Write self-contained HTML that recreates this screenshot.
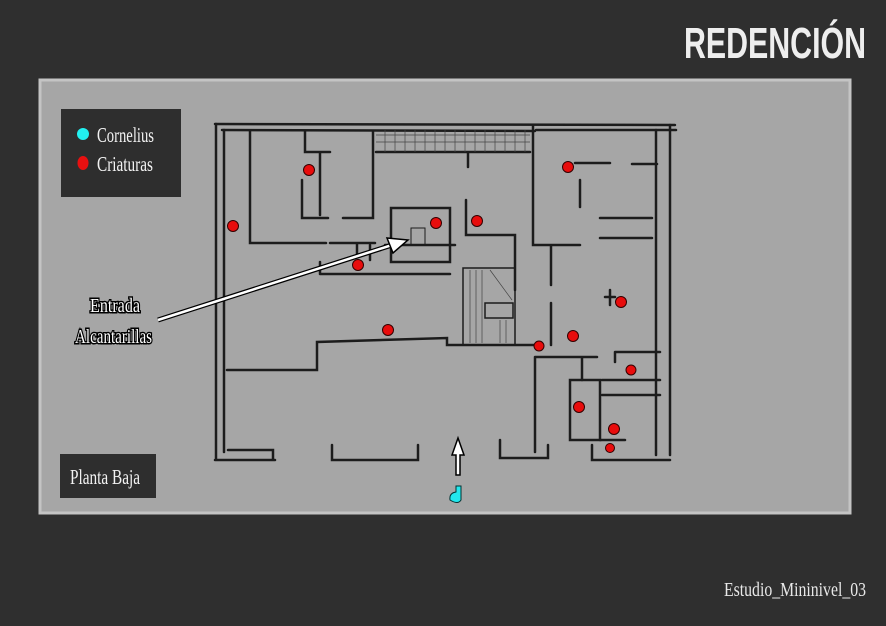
<!DOCTYPE html>
<html><head><meta charset="utf-8"><style>
html,body{margin:0;padding:0;width:886px;height:626px;overflow:hidden;background:#2f2f2f;}
svg{display:block}
</style></head><body>
<svg width="886" height="626" viewBox="0 0 886 626" xmlns="http://www.w3.org/2000/svg">
<rect width="886" height="626" fill="#2f2f2f"/>
<text x="866" y="58" text-anchor="end" font-family="Liberation Sans, sans-serif" font-weight="bold" font-size="44" fill="#eeeeee" textLength="182" lengthAdjust="spacingAndGlyphs">REDENCIÓN</text>
<rect x="40" y="80" width="810" height="433" fill="#a6a6a6" stroke="#c4c4c4" stroke-width="3"/>
<rect x="61" y="109" width="120" height="88" fill="#2e2e2e"/>
<ellipse cx="83" cy="134" rx="6" ry="6" fill="#22f0f0"/>
<ellipse cx="83" cy="163" rx="5.5" ry="7" fill="#e81010"/>
<text x="97" y="142" font-family="Liberation Serif, serif" font-size="21" fill="#f2f2f2" textLength="57" lengthAdjust="spacingAndGlyphs">Cornelius</text>
<text x="97" y="171" font-family="Liberation Serif, serif" font-size="21" fill="#f2f2f2" textLength="56" lengthAdjust="spacingAndGlyphs">Criaturas</text>
<rect x="60" y="454" width="96" height="44" fill="#2e2e2e"/>
<text x="70" y="484" font-family="Liberation Serif, serif" font-size="21" fill="#f2f2f2" textLength="70" lengthAdjust="spacingAndGlyphs">Planta Baja</text>
<g font-family="Liberation Serif, serif" font-size="20" fill="#fff" stroke="#000" stroke-width="3" paint-order="stroke">
<text x="90" y="312" textLength="50" lengthAdjust="spacingAndGlyphs">Entrada</text>
<text x="75" y="343" textLength="77" lengthAdjust="spacingAndGlyphs">Alcantarillas</text>
</g>
<text x="724" y="596" font-family="Liberation Serif, serif" font-size="20" fill="#e8e8e8" textLength="142" lengthAdjust="spacingAndGlyphs">Estudio_Mininivel_03</text>
<g fill="none" stroke="#1c1c1c" stroke-width="2.5" stroke-linecap="round">
<path d="M215 124 L675 125 M222 130 L535 131 M536 130 L676 130"/>
<path d="M216 124 V460 M224 130 V452 M215 460 H275 M228 450 H273 V460"/>
<path d="M250 131 V243 H326 M330 243 H375 M357 243 V255"/>
<path d="M305 131 V152 H330 M320 152 V215 M302 180 V218 H328 M373 131 V218 H343"/>
<path d="M376 152 H530 M459 152 H490 M468 152 V167"/>
<path d="M385 245 H455 M370 245 V260"/>
<rect x="391" y="208" width="59" height="54"/>
<path d="M411 245 V228 H425 V245" stroke-width="1"/>
<path d="M320 274 H450 M320 262 V274"/>
<path d="M466 200 V235 H515 V290"/>
<rect x="463" y="268" width="52" height="77" stroke-width="1.5"/>
<rect x="485" y="303" width="28" height="15" stroke-width="1.5"/>
<path d="M533 125 V245 H580 M551 245 V285 M575 163 H610 M632 164 H657 M580 180 V207 M600 218 H652 M600 238 H652 M656 130 V455 M670 125 V455"/>
<path d="M551 303 V345 M605 297 H615 M610 290 V305"/>
<path d="M227 370 H317 V342 L447 338 V345 H515 M515 345 H535 M535 357 V452 M535 357 H597 M582 357 V380"/>
<rect x="570" y="380" width="30" height="60"/>
<path d="M602 380 H660 M602 395 H660 M615 352 H660 M615 352 V362 M600 440 H625 M592 445 V460 H670"/>
<path d="M332 445 V460 H418 V445 M500 440 V458 H548 V445"/>
</g>
<g stroke="#444" stroke-width="0.7">
<path d="M376 135 H530 M376 142 H530 M385 130 V152 M395 130 V152 M405 130 V152 M415 130 V152 M425 130 V152 M435 130 V152 M445 130 V152 M455 130 V152 M465 130 V152 M475 130 V152 M485 130 V152 M495 130 V152 M505 130 V152 M515 130 V152 M525 130 V152"/>
<path d="M470 270 V343 M476 270 V343 M482 270 V343 M500 320 V343 M506 320 V343 M490 270 L512 300"/>
</g>
<g fill="#e80c0c" stroke="#300" stroke-width="1">
<circle cx="309" cy="170" r="5.5"/><circle cx="233" cy="226" r="5.5"/><circle cx="436" cy="223" r="5.5"/>
<circle cx="477" cy="221" r="5.5"/><circle cx="358" cy="265" r="5.5"/><circle cx="388" cy="330" r="5.5"/>
<circle cx="568" cy="167" r="5.5"/><circle cx="621" cy="302" r="5.5"/><circle cx="573" cy="336" r="5.5"/>
<circle cx="539" cy="346" r="5"/><circle cx="631" cy="370" r="5"/><circle cx="579" cy="407" r="5.5"/>
<circle cx="614" cy="429" r="5.5"/><circle cx="610" cy="448" r="4.5"/>
</g>
<path d="M158 320 L392 245" stroke="#000" stroke-width="5"/>
<path d="M158 320 L392 245" stroke="#fff" stroke-width="2.5"/>
<path d="M408 240 L387 238 L393 253 Z" fill="#fff" stroke="#000" stroke-width="1.5"/>
<path d="M458 438 L452 455 H456 V475 H460 V455 H464 Z" fill="#fff" stroke="#000" stroke-width="1.5"/>
<path d="M450 500 Q449 493 456 492 V486 H461 V500 Q458 505 450 500 Z" fill="#22e8ee" stroke="#033" stroke-width="1"/>
</svg>
</body></html>
